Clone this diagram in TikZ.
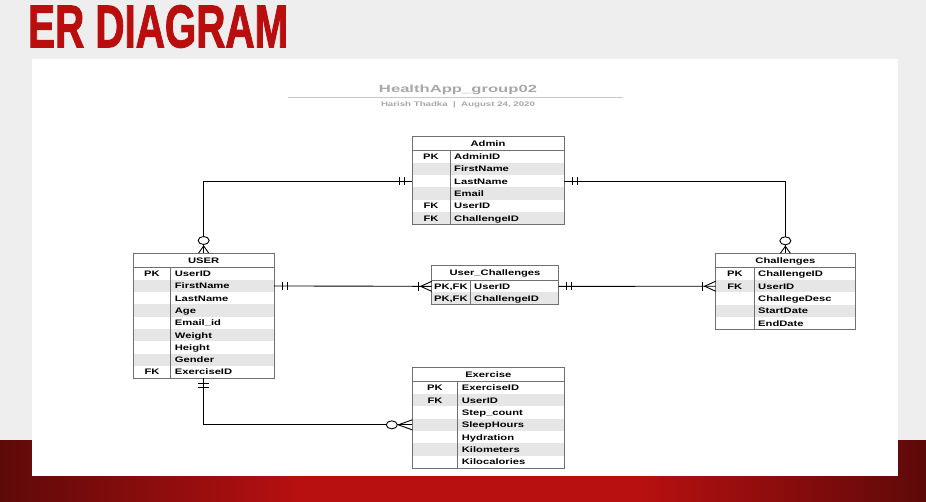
\documentclass[tikz,border=0pt]{standalone}
\usepackage{fontspec}
\setmainfont{Liberation Sans}
\newfontfamily\erfont[FakeStretch=1.4]{Liberation Sans}
\newfontfamily\titlefont[FakeBold=2]{Liberation Sans}
\usetikzlibrary{calc}
\definecolor{bgpage}{HTML}{EEEEEE}
\definecolor{titlered}{HTML}{BA0E0E}
\definecolor{bandred}{HTML}{B81010}
\definecolor{banddark}{HTML}{5E0909}
\definecolor{rowgray}{HTML}{E6E6E6}
\definecolor{tblline}{HTML}{707070}
\definecolor{hdrgray}{HTML}{A8A8A8}
\definecolor{hdrline}{HTML}{C8C8C8}
\tikzset{
  tblbox/.style={draw=tblline, line width=0.8pt, inner sep=0pt, outer sep=0pt},
  rowbox/.style={inner sep=0pt, outer sep=0pt, draw=none},
  celltxt/.style={font=\erfont\bfseries\fontsize{8}{9}\selectfont, inner sep=0pt, text=black, anchor=base},
  tblrule/.style={draw=tblline, line width=0.8pt},
  conn/.style={draw=black, line width=0.9pt},
}
% #1 name, #2 x1, #3 y1, #4 x2, #5 divx, #6 nrows, #7 title, #8 rows
\newcommand\ertable[8]{%
  \pgfmathsetmacro\tw{#4-#2}%
  \pgfmathsetmacro\th{14.5+#6*12.3}%
  \foreach \k/\v [count=\i] in {#8} {%
    \pgfmathsetmacro\rt{#3+14.5+(\i-1)*12.3}%
    \ifodd\i \def\rf{white}\else\def\rf{rowgray}\fi
    \node[rowbox, fill=\rf, minimum width=\tw pt, minimum height=12.3pt, anchor=north west] (#1-\i) at (#2,\rt) {};
    \node[celltxt] at ({(#2+#5)/2}, \rt+9.05) {\k};
    \node[celltxt, anchor=base west] at (#5+4, \rt+9.05) {\v};
  }%
  \node[tblbox, minimum width=\tw pt, minimum height=\th pt, anchor=north west] (#1) at (#2,#3) {};
  \node[celltxt] at ({(#2+#4)/2}, #3+10.1) {#7};
  \draw[tblrule] (#2,#3+14.5) -- (#4,#3+14.5);
  \draw[tblrule] (#5,#3+14.5) -- (#5,#3+\th);
}
\begin{document}
\begin{tikzpicture}[x=1pt, y=-1pt]
\useasboundingbox (0,0) rectangle (926,502);
% background
\fill[bgpage] (0,0) rectangle (926,502);
\shade[left color=banddark, right color=bandred] (0,440) rectangle (301,502);
\fill[bandred] (300,440) rectangle (641,502);
\shade[left color=bandred, right color=banddark] (640,440) rectangle (926,502);
\fill[white] (32,59) rectangle (898,476);
% titles
\node[anchor=north west, inner sep=0pt, text=titlered] (title) at (28,5) {\resizebox{260pt}{42pt}{\titlefont\bfseries ER DIAGRAM}};
\node[anchor=base, inner sep=0pt, text=hdrgray] (head) at (458,93) {\resizebox{158pt}{7.5pt}{\bfseries HealthApp\_group02}};
\draw[draw=hdrline, line width=1.2pt] (288,97.5) -- (623,97.5);
\node[anchor=base, inner sep=0pt, text=hdrgray] (sub) at (458,106.3) {\resizebox{154pt}{4.8pt}{\bfseries Harish Thadka \ | \ August 24, 2020}};
% tables
\ertable{admin}{412}{136}{564}{450}{6}{Admin}{PK/AdminID, /FirstName, /LastName, /Email, FK/UserID, FK/ChallengeID}
\ertable{user}{133.3}{253}{274}{170.7}{9}{USER}{PK/UserID, /FirstName, /LastName, /Age, /Email\_id, /Weight, /Height, /Gender, FK/ExerciseID}
\ertable{uc}{431.7}{265.7}{558.3}{470}{2}{User\_Challenges}{{PK,FK}/UserID, {PK,FK}/ChallengeID}
\ertable{chal}{715.7}{253.3}{855}{754}{5}{Challenges}{PK/ChallengeID, FK/UserID, /ChallegeDesc, /StartDate, /EndDate}
\ertable{ex}{412.3}{367.3}{564.3}{457.7}{7}{Exercise}{PK/ExerciseID, FK/UserID, /Step\_count, /SleepHours, /Hydration, /Kilometers, /Kilocalories}
% connectors
\draw[conn] (user.north) |- (admin-3.west);
\draw[conn] (admin-3.east) -| (chal.north);
\draw[conn] (user-2.east) -- (uc-1.west);
\draw[conn] (uc-1.east) -- (chal-2.west);
\draw[conn] (user.south) |- (ex-4.west);
% USER -- Admin : zero-or-many at USER, one at Admin
\draw[conn] ($(admin-3.west)+(-8,-4)$) -- ++(0,8);
\draw[conn] ($(admin-3.west)+(-13,-4)$) -- ++(0,8);
\draw[conn] ($(user.north)+(-5,0)$) -- ($(user.north)+(0,-7)$) -- ($(user.north)+(5,0)$);
\draw[conn, fill=white] ($(user.north)+(0,-12.5)$) ellipse [x radius=5.5pt, y radius=4pt];
% Admin -- Challenges
\draw[conn] ($(admin-3.east)+(8,-4)$) -- ++(0,8);
\draw[conn] ($(admin-3.east)+(13,-4)$) -- ++(0,8);
\draw[conn] ($(chal.north)+(-5,0)$) -- ($(chal.north)+(0,-7)$) -- ($(chal.north)+(5,0)$);
\draw[conn, fill=white] ($(chal.north)+(0,-12.5)$) ellipse [x radius=5.5pt, y radius=4pt];
% USER -- User_Challenges
\draw[conn] ($(user-2.east)+(8,-4)$) -- ++(0,8);
\draw[conn] ($(user-2.east)+(13,-4)$) -- ++(0,8);
\draw[conn] ($(uc-1.west)+(-13,-4.5)$) -- ++(0,9);
\draw[conn] ($(uc-1.west)+(0,-5)$) -- ($(uc-1.west)+(-11,0)$) -- ($(uc-1.west)+(0,5)$);
% User_Challenges -- Challenges
\draw[conn] ($(uc-1.east)+(8,-4)$) -- ++(0,8);
\draw[conn] ($(uc-1.east)+(13,-4)$) -- ++(0,8);
\draw[conn] ($(chal-2.west)+(-13,-4.5)$) -- ++(0,9);
\draw[conn] ($(chal-2.west)+(0,-5)$) -- ($(chal-2.west)+(-11,0)$) -- ($(chal-2.west)+(0,5)$);
% USER -- Exercise
\draw[conn] ($(user.south)+(-5.5,5)$) -- ++(11,0);
\draw[conn] ($(user.south)+(-5.5,9)$) -- ++(11,0);
\draw[conn] ($(ex-4.west)+(0,-5)$) -- ($(ex-4.west)+(-14,0)$) -- ($(ex-4.west)+(0,5)$);
\draw[conn, fill=white] ($(ex-4.west)+(-20.5,0)$) ellipse [x radius=5.5pt, y radius=4pt];
\end{tikzpicture}
\end{document}
